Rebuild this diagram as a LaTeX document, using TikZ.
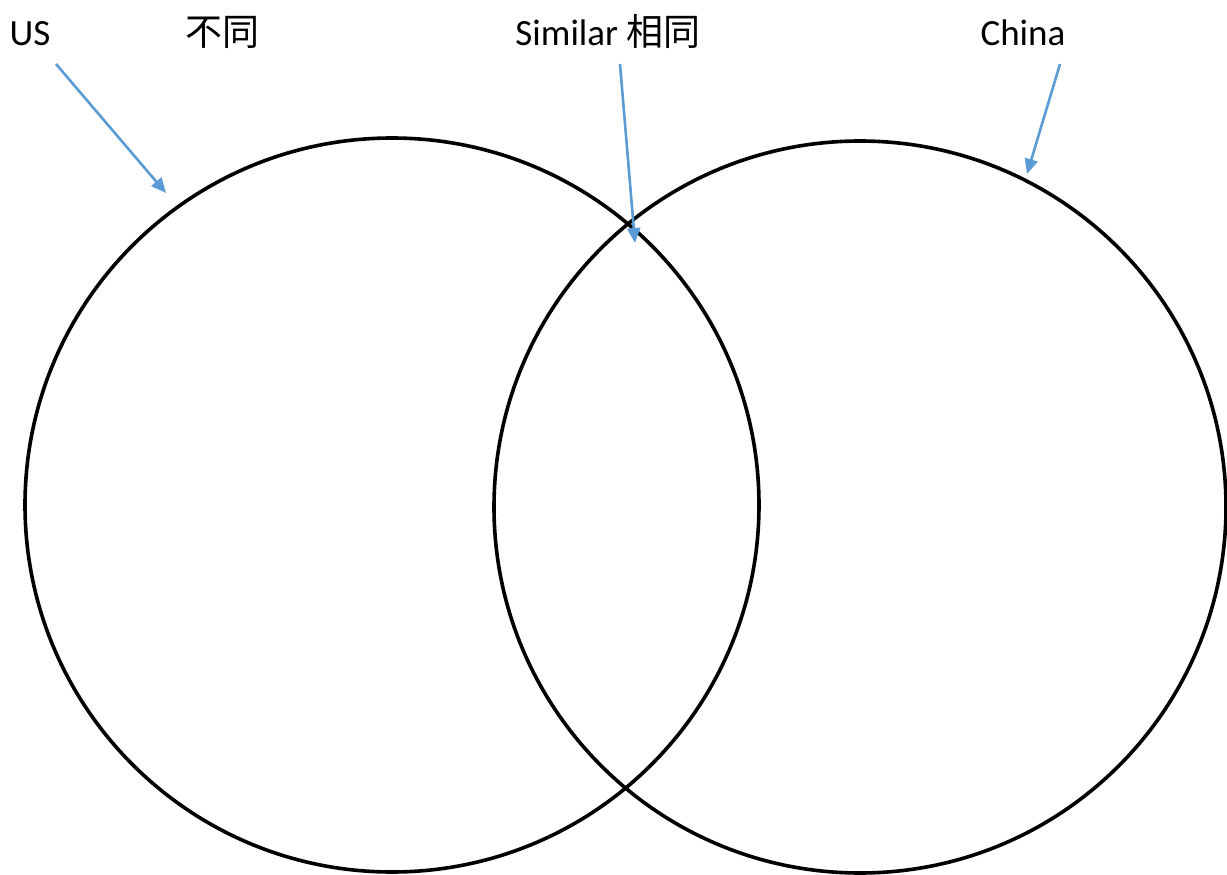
\documentclass[tikz,border=0pt]{standalone}
\usepackage{fontspec}
\setmainfont{Carlito}
\newfontfamily\cjk{Noto Sans CJK SC}
\usetikzlibrary{arrows.meta}
\definecolor{arrowblue}{HTML}{5B9BD5}

\begin{document}
\begin{tikzpicture}[x=1pt, y=-1pt,
  ring/.style={draw=black, line width=3.6pt},
  lbl/.style={font=\fontsize{37}{40}\selectfont, anchor=base, inner sep=0pt},
  ptr/.style={draw=arrowblue, line width=2.6pt, -{Triangle[length=15pt,width=13pt]}}
]
\useasboundingbox (0,0) rectangle (1227,875);

%% Two overlapping circles
\draw[ring] (392,505) circle (367pt);
\draw[ring] (860,507) circle (366pt);

%% Labels
\node[lbl] (us)      at (30,46)   {US};
\node[lbl] (diff)    at (222,46)  {\cjk 不同};
\node[lbl] (similar) at (608,46)  {Similar \cjk 相同};
\node[lbl] (china)   at (1023,46) {China};

%% Pointer ends
\coordinate (usTail)  at (56,64);    \coordinate (usTip)  at (166,193);
\coordinate (simTail) at (620,64);   \coordinate (simTip) at (635,243);
\coordinate (cnTail)  at (1060,64);  \coordinate (cnTip)  at (1027,174);

\draw[ptr] (usTail)  -- (usTip);
\draw[ptr] (simTail) -- (simTip);
\draw[ptr] (cnTail)  -- (cnTip);
\end{tikzpicture}
\end{document}
